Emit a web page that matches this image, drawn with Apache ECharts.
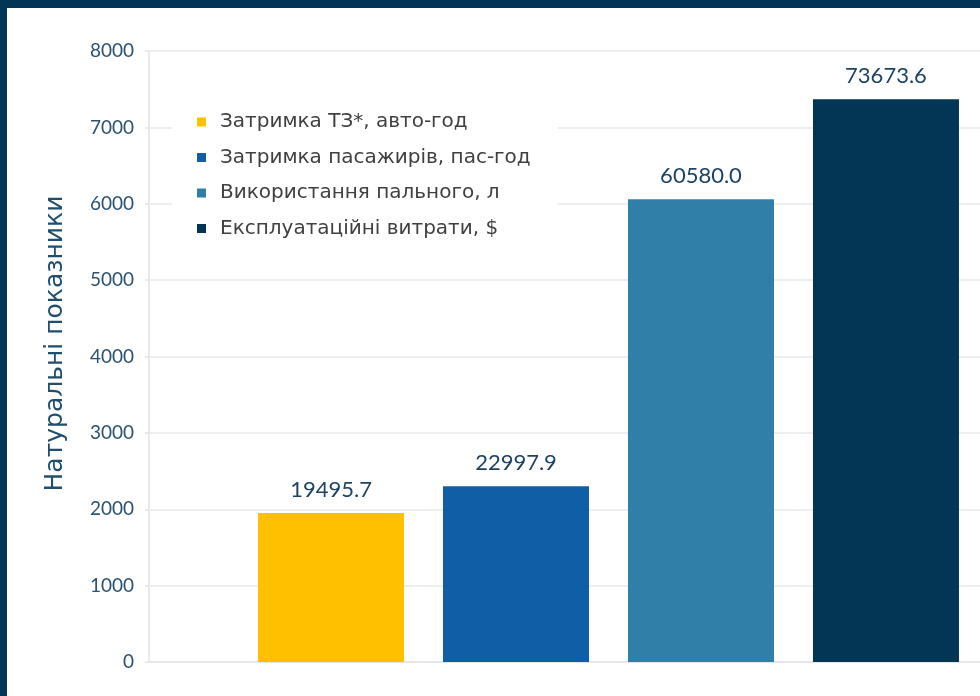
<!DOCTYPE html>
<html>
<head>
<meta charset="utf-8">
<script src="https://cdn.jsdelivr.net/npm/echarts@6/dist/echarts.min.js"></script>
<style>
  html, body { margin: 0; padding: 0; width: 980px; height: 696px; background: #033654; overflow: hidden; }
  #chart { position: absolute; left: 7px; top: 8px; width: 1075px; height: 688px; background: #ffffff; }
</style>
</head>
<body>
<div id="chart"></div>
<script>
// Series names (legend) and their values
const seriesNames = [
  'Затримка ТЗ*, авто-год',
  'Затримка пасажирів, пас-год',
  'Використання пального, л',
  'Експлуатаційні витрати, $'
];
const seriesValues = [19495.7, 22997.9, 60580.0, 73673.6];
const seriesColors = ['#FFC000', '#0F5EA6', '#2F7FA9', '#033654'];
const categories = [''];
const yAxisTitle = 'Натуральні показники';
// Axis ticks are shown on a 1:10 scale
const axisScale = 10;

const chart = echarts.init(document.getElementById('chart'), null, { renderer: 'canvas' });

const series = seriesNames.map((name, i) => ({
  name: name,
  type: 'bar',
  data: [seriesValues[i]],
  barWidth: 146,
  barGap: '26.7%',
  itemStyle: { color: seriesColors[i] },
  label: {
    show: true,
    position: 'top',
    distance: 12,
    formatter: (p) => p.value.toFixed(1),
    fontFamily: 'Lato',
    fontSize: 22,
    color: '#1E4262'
  }
}));

chart.setOption({
  animation: false,
  grid: { left: 142, top: 43, bottom: 34, right: 14, containLabel: false },
  legend: {
    orient: 'vertical',
    left: 165,
    top: 93,
    padding: [9, 27, 9, 25],
    backgroundColor: '#ffffff',
    icon: 'rect',
    itemWidth: 9,
    itemHeight: 9,
    itemGap: 11.5,
    textStyle: {
      fontFamily: 'DejaVu Sans',
      fontSize: 20,
      color: '#404040',
      lineHeight: 24,
      padding: [0, 0, 0, 9]
    },
    data: seriesNames
  },
  xAxis: {
    type: 'category',
    data: categories,
    axisLine: { show: true, lineStyle: { color: '#E3E3E3', width: 1.5 } },
    axisTick: { show: false },
    axisLabel: { show: false }
  },
  yAxis: {
    type: 'value',
    min: 0,
    max: 80000,
    interval: 10000,
    name: yAxisTitle,
    nameLocation: 'middle',
    nameGap: 81,
    nameRotate: 90,
    nameTextStyle: {
      fontFamily: 'DejaVu Sans',
      fontSize: 25,
      color: '#1F4E6E',
      padding: [0, 0, 0, 26]
    },
    axisLine: { show: true, lineStyle: { color: '#E3E3E3', width: 1.5 } },
    axisTick: { show: true, length: 4, lineStyle: { color: '#E3E3E3', width: 1.5 } },
    axisLabel: {
      margin: 15,
      fontFamily: 'Lato',
      fontSize: 19,
      color: '#2B5272',
      formatter: (v) => String(v / axisScale)
    },
    splitLine: { show: true, lineStyle: { color: '#E8E8E8', width: 1.5 } }
  },
  series: series
});
</script>
</body>
</html>
